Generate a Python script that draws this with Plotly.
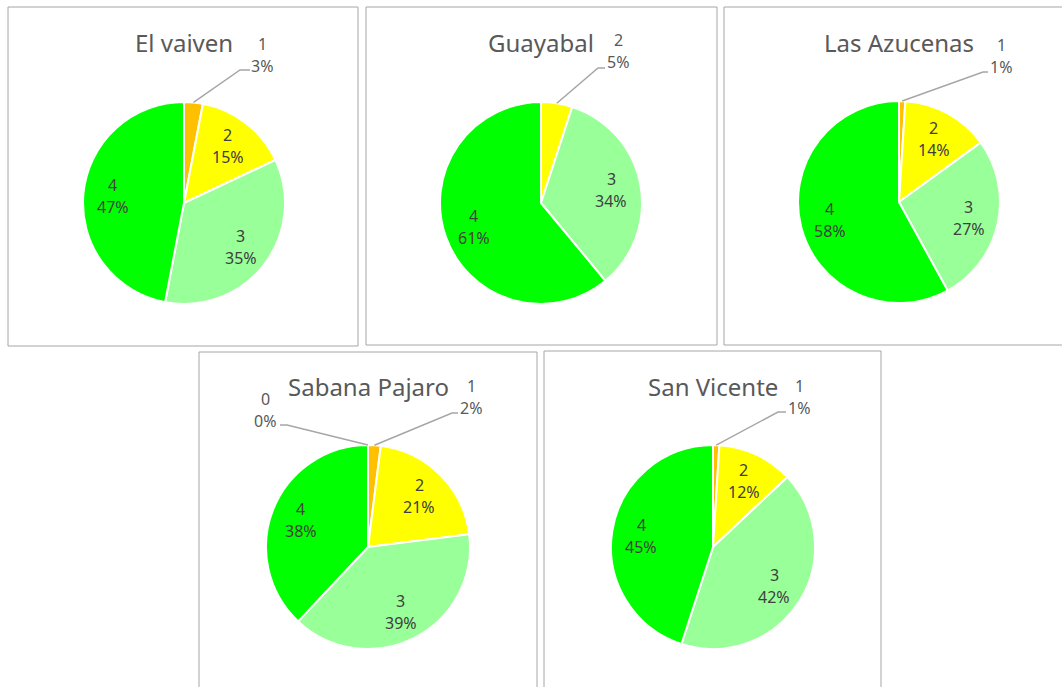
import math
import plotly.graph_objects as go

W, H = 1062, 687

# --- data -------------------------------------------------------------
titles = ["El vaiven", "Guayabal", "Las Azucenas", "Sabana Pajaro", "San Vicente"]

cats_el_vaiven = ["1", "2", "3", "4"]
vals_el_vaiven = [3, 15, 35, 47]

cats_guayabal = ["2", "3", "4"]
vals_guayabal = [5, 34, 61]

cats_las_azucenas = ["1", "2", "3", "4"]
vals_las_azucenas = [1, 14, 27, 58]

cats_sabana_pajaro = ["0", "1", "2", "3", "4"]
vals_sabana_pajaro = [0, 2, 21, 39, 38]

cats_san_vicente = ["1", "2", "3", "4"]
vals_san_vicente = [1, 12, 42, 45]

category_colors = {
    "0": "#FF8C00",
    "1": "#FFC000",
    "2": "#FFFF00",
    "3": "#99FF99",
    "4": "#00FF00",
}

# --- layout (pixels) --------------------------------------------------
# pie centre x, centre y, radius
pie_geom = [
    (184, 203, 101),
    (541, 203, 101),
    (899, 202, 101),
    (368, 547, 102),
    (713, 547, 102),
]
title_y = [42, 42, 42, 386, 386]
panel_boxes = [
    (8, 7, 358, 346),
    (366, 7, 717, 345),
    (724, 7, 1075, 345),
    (199, 352, 537, 700),
    (544, 351, 881, 700),
]
# outside callouts: category -> (text centre x, text centre y, elbow x, elbow y, end x)
callouts = [
    {"1": (262, 55, 240, 70, 250)},
    {"2": (618, 51, 598, 68, 605)},
    {"1": (1001, 56, 983, 72, 988)},
    {"1": (471, 397, 452, 413, 458), "0": (265, 410, 287, 425, 280)},
    {"1": (799, 397, 778, 412, 786)},
]

series = [
    (cats_el_vaiven, vals_el_vaiven),
    (cats_guayabal, vals_guayabal),
    (cats_las_azucenas, vals_las_azucenas),
    (cats_sabana_pajaro, vals_sabana_pajaro),
    (cats_san_vicente, vals_san_vicente),
]

LINE_GAP = 22  # distance between category line and percent line


def px(x):
    return x / W


def py(y):
    return 1 - y / H


FONT = "Noto Sans"
fig = go.Figure()
annotations = []
shapes = []


def two_line_label(x, y, top, bottom, color):
    for txt, dy in ((top, -LINE_GAP / 2), (bottom, LINE_GAP / 2)):
        annotations.append(dict(text=txt, x=px(x), y=py(y + dy),
                                xref="paper", yref="paper", showarrow=False,
                                xanchor="center", yanchor="middle",
                                font=dict(family=FONT, size=16, color=color)))


for i, (title, (cats, vals)) in enumerate(zip(titles, series)):
    cx, cy, r = pie_geom[i]
    fig.add_trace(go.Pie(
        labels=cats,
        values=vals,
        sort=False,
        direction="clockwise",
        rotation=0,
        textinfo="none",
        hoverinfo="label+percent",
        marker=dict(colors=[category_colors[c] for c in cats],
                    line=dict(color="white", width=2)),
        domain=dict(x=[px(cx - r), px(cx + r)], y=[py(cy + r), py(cy - r)]),
        showlegend=False,
    ))

    # panel frame
    x0, y0, x1, y1 = panel_boxes[i]
    shapes.append(dict(type="rect", xref="paper", yref="paper",
                       x0=px(x0), x1=px(x1), y0=py(y1), y1=py(y0),
                       line=dict(color="#A6A6A6", width=1), layer="below"))

    # title
    annotations.append(dict(text=title, x=px(cx), y=py(title_y[i]),
                            xref="paper", yref="paper", showarrow=False,
                            xanchor="center", yanchor="middle",
                            font=dict(family=FONT, size=24, color="#595959")))

    total = sum(vals)
    cum = 0.0
    for c, v in zip(cats, vals):
        frac = v / total
        mid = (cum + frac / 2) * 2 * math.pi  # clockwise from 12 o'clock
        cum += frac
        pct = f"{round(frac * 100)}%"
        if c in callouts[i]:
            tx, ty, ex, ey, endx = callouts[i][c]
            sx = cx + r * math.sin(mid)
            sy = cy - r * math.cos(mid)
            shapes.append(dict(type="path", xref="paper", yref="paper",
                               path=f"M {px(sx)},{py(sy)} L {px(ex)},{py(ey)} L {px(endx)},{py(ey)}",
                               line=dict(color="#A6A6A6", width=1.5)))
            two_line_label(tx, ty, c, pct, "#595959")
        else:
            d = 0.71 * r
            lx = cx + d * math.sin(mid)
            ly = cy - d * math.cos(mid)
            two_line_label(lx, ly, c, pct, "#404040")

fig.update_layout(
    width=W, height=H,
    margin=dict(l=0, r=0, t=0, b=0),
    paper_bgcolor="white",
    plot_bgcolor="white",
    annotations=annotations,
    shapes=shapes,
)

fig.write_html("out.html")
